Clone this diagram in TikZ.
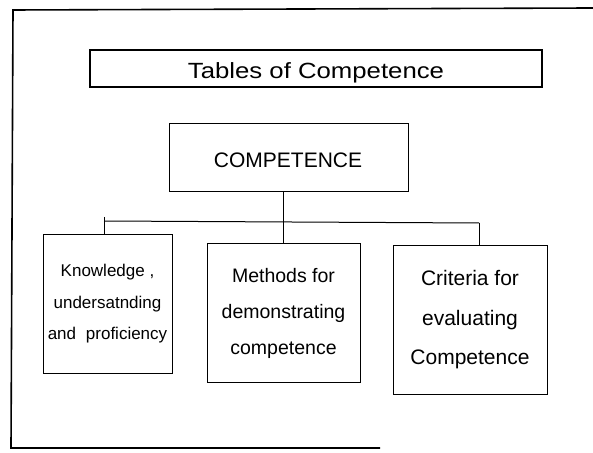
\documentclass[tikz,border=0pt]{standalone}
\usepackage{fontspec}
\setmainfont{Liberation Sans}
\usepackage{graphicx}
\begin{document}
\begin{tikzpicture}[x=1pt,y=1pt,
  box/.style={draw=black,line width=1pt,inner sep=0pt,align=center},
  link/.style={draw=black,line width=1pt},
  thin link/.style={draw=black,line width=0.7pt},
  frame/.style={draw=black,line width=1.6pt}]
\useasboundingbox (0,0) rectangle (593,452);
% outer frame
\coordinate (f1) at (593,444);
\coordinate (f2) at (13,442);
\coordinate (f3) at (11,4);
\coordinate (f4) at (380,4);
\draw[frame] (f1) -- (f2) -- (f3) -- (f4);
% title
\node[draw=black,line width=2.5pt,minimum width=452pt,minimum height=37pt,inner sep=0pt] (title) at (316,383.5) {};
\node[anchor=base,inner sep=0pt] (titletext) at (316,373.5) {\fontsize{22}{26}\selectfont\scalebox{1.17}[1]{Tables of Competence}};
% competence
\node[box,minimum width=239pt,minimum height=68pt] (comp) at (288.5,294) {};
\node[anchor=base,inner sep=0pt] (comptext) at (288,284) {\fontsize{21}{25}\selectfont COMPETENCE};
% three boxes
\node[box,minimum width=129pt,minimum height=138pt,font=\fontsize{17}{31.5}\selectfont] (know) at (107.5,148)
  {Knowledge ,\\ undersatnding\\ and\hspace{0.3em} proficiency};
\node[box,minimum width=153pt,minimum height=138pt,font=\fontsize{19.5}{36}\selectfont] (meth) at (283.5,139)
  {Methods for\\ demonstrating\\ competence};
\node[box,minimum width=154pt,minimum height=148pt,font=\fontsize{21}{39.5}\selectfont] (crit) at (470,132)
  {Criteria for\\ evaluating\\ Competence};
% connectors
\draw[link] (comp.south -| meth.north) -- (meth.north);
\coordinate (bl) at (104,231);
\coordinate (br) at (479,229);
\coordinate (bltop) at (104,235);
\draw[link] (bl) -- (br);
\draw[thin link] (bltop) -- (bltop |- know.north);
\draw[thin link] (br) -- (br |- crit.north);
\end{tikzpicture}
\end{document}
